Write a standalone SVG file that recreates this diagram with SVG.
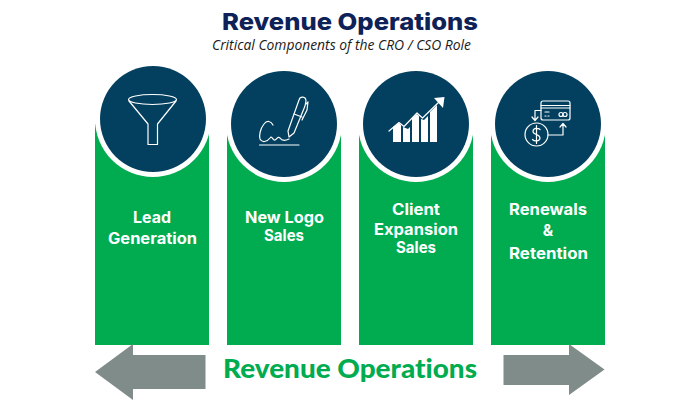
<svg xmlns="http://www.w3.org/2000/svg" width="700" height="400" viewBox="0 0 700 400">
<style>
.bar{fill:#00ac4f}
.ring{fill:#fff}
.disc{fill:#03405f}
.ic{fill:none;stroke:#fff;stroke-width:1.2;stroke-linejoin:round;stroke-linecap:round}
.icf{fill:#fff;stroke:none}
.lab{font-family:"Inter","Liberation Sans",sans-serif;font-weight:700;font-size:15.500px;fill:#fff;text-anchor:middle}
.arrow{fill:#7f8c8a}
</style>
<rect width="700" height="400" fill="#fff"/>
<text id="title" x="350" y="30" text-anchor="middle" textLength="256" lengthAdjust="spacingAndGlyphs" font-family="Inter,'Liberation Sans',sans-serif" font-weight="800" font-size="23.500" fill="#0e2258">Revenue Operations</text>
<text id="subtitle" x="341.500" y="50" text-anchor="middle" textLength="259" lengthAdjust="spacingAndGlyphs" font-family="'Open Sans','Liberation Sans',sans-serif" font-style="italic" font-size="14" fill="#1a1a1a">Critical Components of the CRO / CSO Role</text>

<g id="node-lead">
<rect class="bar" x="95" y="124" width="114" height="221"/>
<circle class="ring" cx="153" cy="119" r="58"/>
<circle class="disc" cx="153" cy="119" r="53"/>
<ellipse class="ic" cx="152.500" cy="99.500" rx="24" ry="5"/>
<path class="ic" d="M129 101L148 124V144.500H157.500V124L176 101"/>
<text class="lab" x="152" y="223" textLength="38" lengthAdjust="spacingAndGlyphs">Lead</text>
<text class="lab" x="152.500" y="244" textLength="89" lengthAdjust="spacingAndGlyphs">Generation</text>
</g>

<g id="node-logo">
<rect class="bar" x="227" y="124" width="114" height="221"/>
<circle class="ring" cx="284" cy="124" r="58"/>
<circle class="disc" cx="284" cy="124" r="53"/>
<path class="ic" d="M273 125C271 121 267 120 264 124C260 129 259 136 260 139C262 143 267 142 270 138C272 135 273 141 275 140C277 139 278 136 280 138C282 141 285 141 289 139"/>
<path class="ic" d="M289 137L288 131L299 100C300 96 306 96 306 101L305 106L294 133Z"/>
<path class="ic" d="M294 114L302 117M306 104L308 102L307 110L302 120"/>
<path class="ic" d="M259.500 145H299" stroke-width="1.500"/>
<text class="lab" x="284.500" y="223" textLength="79" lengthAdjust="spacingAndGlyphs">New Logo</text>
<text class="lab" x="284" y="241" textLength="40" lengthAdjust="spacingAndGlyphs">Sales</text>
</g>

<g id="node-expansion">
<rect class="bar" x="359" y="124" width="114" height="221"/>
<circle class="ring" cx="416" cy="124" r="58"/>
<circle class="disc" cx="416" cy="124" r="53"/>
<path class="icf" d="M393 142V127L399 123L401 125V142ZM403 142V127L408 129L410 127V142ZM412 142V118L417 114L419 116V142ZM421 142V119L424 120L428 116V142ZM430 142V112L437 105V142Z"/>
<path class="ic" d="M389 131L399 122.500L404 126.500L417 113L422.500 118L439 102" stroke-width="2.200"/>
<path class="icf" d="M434 98L444.500 97L443 108Z"/>
<text class="lab" x="416" y="215" textLength="48" lengthAdjust="spacingAndGlyphs">Client</text>
<text class="lab" x="416" y="235" textLength="84" lengthAdjust="spacingAndGlyphs">Expansion</text>
<text class="lab" x="416" y="253" textLength="40" lengthAdjust="spacingAndGlyphs">Sales</text>
</g>

<g id="node-renewals">
<rect class="bar" x="491" y="124" width="114" height="221"/>
<circle class="ring" cx="548" cy="124" r="58"/>
<circle class="disc" cx="548" cy="124" r="53"/>
<rect class="ic" x="541" y="101" width="29" height="19" rx="2"/>
<path class="ic" d="M541 105.500H570M541 108H570M545 112H549M545 116H546M548 116H549"/>
<circle class="ic" cx="561" cy="114.500" r="2"/><circle class="ic" cx="565" cy="114.500" r="2"/>
<circle class="ic" cx="536.500" cy="134.500" r="11.500"/>
<path class="ic" d="M540 129.500C538 127.500 533 128 533 131.500C533 135 540 134 540 138C540 141 535 142 532.500 139.500M536.500 125.500V143.500"/>
<path class="ic" d="M541 110.500H535V120M532 117L535 120.500L538 117"/>
<path class="ic" d="M548 135H563V124.500M560 127L563 123.500L566 127"/>
<text class="lab" x="548" y="215" textLength="78" lengthAdjust="spacingAndGlyphs">Renewals</text>
<text class="lab" x="548" y="236">&amp;</text>
<text class="lab" x="548.500" y="259" textLength="79" lengthAdjust="spacingAndGlyphs">Retention</text>
</g>

<g id="connectors">
<path id="arrow-left" class="arrow" d="M95 372L133 344V355H205.500V389H133V400Z"/>
<path id="arrow-right" class="arrow" d="M604.500 369.500L569 344V355H503.500V385H569V395Z"/>
</g>
<text id="bottom-label" x="350" y="378" text-anchor="middle" textLength="254" lengthAdjust="spacingAndGlyphs" font-family="Lato,Inter,sans-serif" font-weight="900" font-size="26" fill="#00ac4f" style="font-variant-ligatures:none">Revenue Operations</text>
</svg>
